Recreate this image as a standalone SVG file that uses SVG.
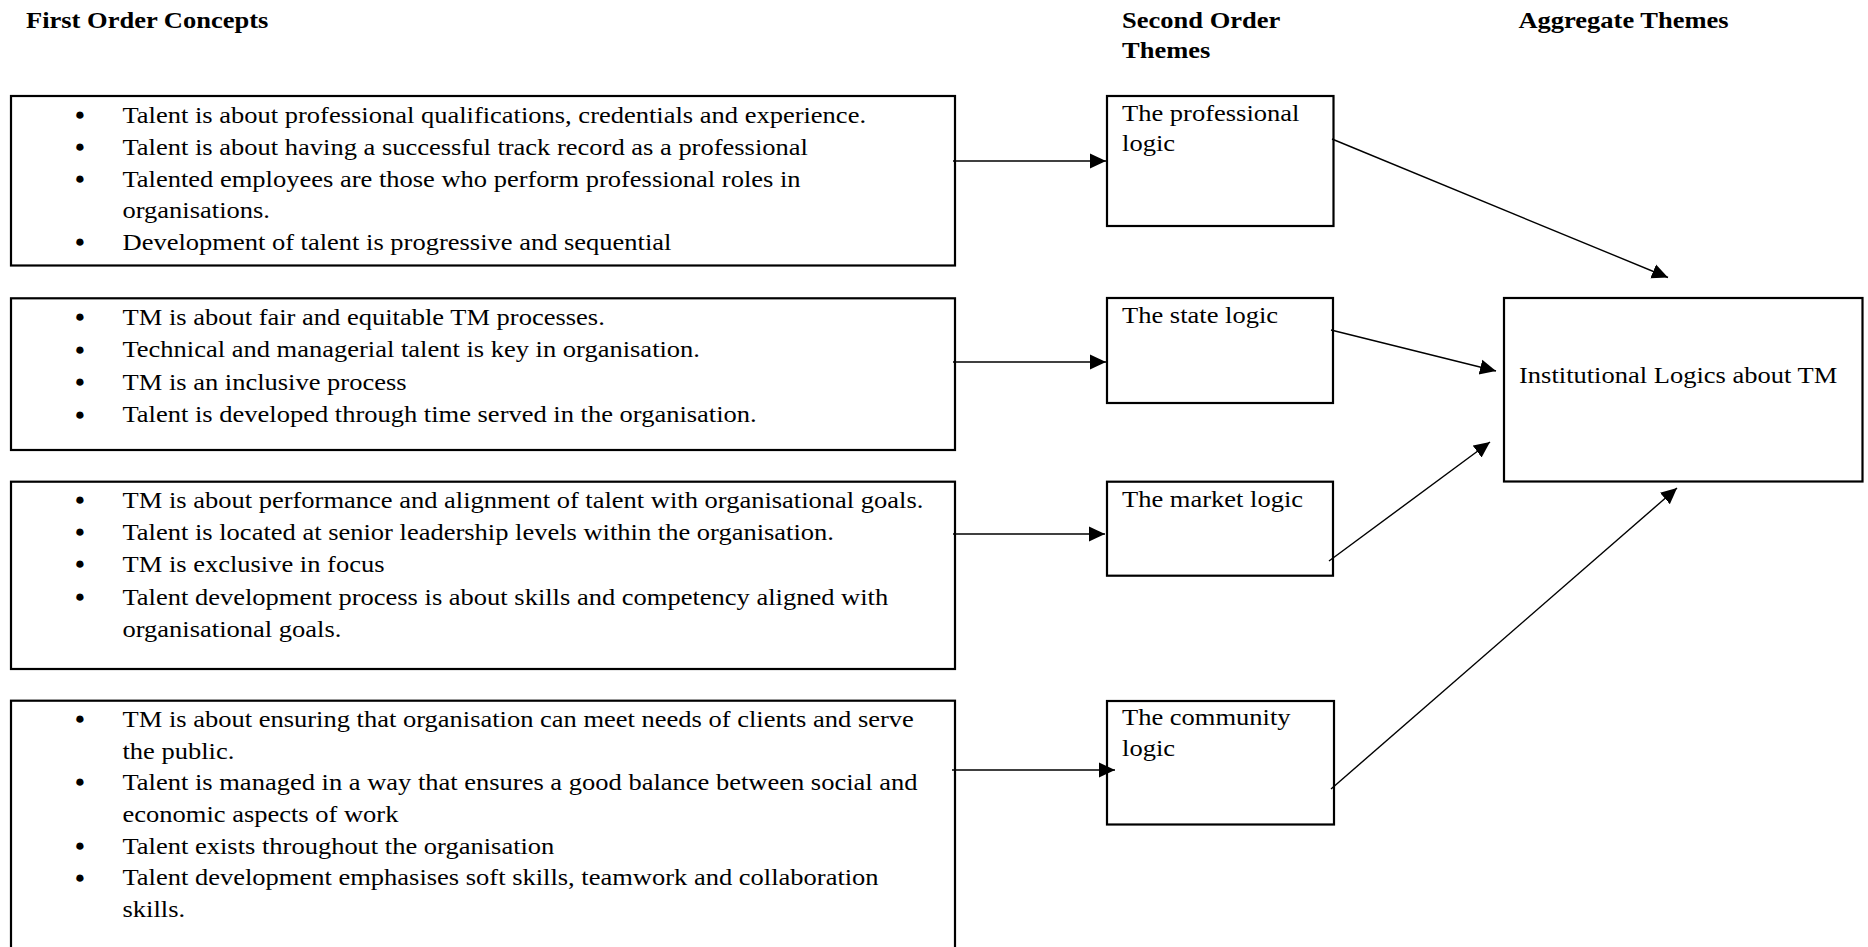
<svg xmlns="http://www.w3.org/2000/svg" width="1868" height="947" viewBox="0 0 1868 947">
<style>
  .bg { fill: #ffffff; }
  .box { fill: #ffffff; stroke: #000000; stroke-width: 2.2; }
  .t { font-family: "Liberation Serif", "Times New Roman", serif; font-size: 22.5px; fill: #000000; }
  .h { font-family: "Liberation Serif", "Times New Roman", serif; font-size: 22.5px; font-weight: bold; fill: #000000; }
  .bul { font-family: "Liberation Sans", Arial, sans-serif; font-size: 17px; fill: #000000; text-anchor: middle; }
  .conn { stroke: #000000; stroke-width: 1.4; fill: none; marker-end: url(#ah); }
</style>
<defs>
  <marker id="ah" markerUnits="userSpaceOnUse" markerWidth="20" markerHeight="20" refX="16" refY="8" orient="auto">
    <path d="M0,0.5 L16,8 L0,15.5 Z" fill="#000000"/>
  </marker>
</defs>
<rect class="bg" x="0" y="0" width="1868" height="947"/>

<g id="headers" transform="scale(1.178 1)">
  <text class="h" x="22.07" y="28">First Order Concepts</text>
  <text class="h" x="952.5" y="28">Second Order</text>
  <text class="h" x="952.5" y="58.5">Themes</text>
  <text class="h" x="1289" y="28">Aggregate Themes</text>
</g>

<g id="concepts-professional">
  <rect class="box" x="11" y="96" width="944" height="169.5"/>
  <text class="bul" x="80" y="120">●</text>
  <text class="bul" x="80" y="151.8">●</text>
  <text class="bul" x="80" y="183.6">●</text>
  <text class="bul" x="80" y="247.2">●</text>
  <g transform="scale(1.178 1)">
    <text class="t" x="104" y="123">Talent is about professional qualifications, credentials and experience.</text>
    <text class="t" x="104" y="154.8">Talent is about having a successful track record as a professional</text>
    <text class="t" x="104" y="186.6">Talented employees are those who perform professional roles in</text>
    <text class="t" x="104" y="218.4">organisations.</text>
    <text class="t" x="104" y="250.2">Development of talent is progressive and sequential</text>
  </g>
</g>

<g id="concepts-state">
  <rect class="box" x="11" y="298.3" width="944" height="151.7"/>
  <text class="bul" x="80" y="322">●</text>
  <text class="bul" x="80" y="354.5">●</text>
  <text class="bul" x="80" y="387">●</text>
  <text class="bul" x="80" y="419.5">●</text>
  <g transform="scale(1.178 1)">
    <text class="t" x="104" y="325">TM is about fair and equitable TM processes.</text>
    <text class="t" x="104" y="357.5">Technical and managerial talent is key in organisation.</text>
    <text class="t" x="104" y="390">TM is an inclusive process</text>
    <text class="t" x="104" y="422.5">Talent is developed through time served in the organisation.</text>
  </g>
</g>

<g id="concepts-market">
  <rect class="box" x="11" y="481.7" width="944" height="187.3"/>
  <text class="bul" x="80" y="505">●</text>
  <text class="bul" x="80" y="537.2">●</text>
  <text class="bul" x="80" y="569.4">●</text>
  <text class="bul" x="80" y="601.6">●</text>
  <g transform="scale(1.178 1)">
    <text class="t" x="104" y="508">TM is about performance and alignment of talent with organisational goals.</text>
    <text class="t" x="104" y="540.2">Talent is located at senior leadership levels within the organisation.</text>
    <text class="t" x="104" y="572.4">TM is exclusive in focus</text>
    <text class="t" x="104" y="604.6">Talent development process is about skills and competency aligned with</text>
    <text class="t" x="104" y="636.8">organisational goals.</text>
  </g>
</g>

<g id="concepts-community">
  <rect class="box" x="11" y="700.7" width="944" height="260"/>
  <text class="bul" x="80" y="724">●</text>
  <text class="bul" x="80" y="787.4">●</text>
  <text class="bul" x="80" y="850.8">●</text>
  <text class="bul" x="80" y="882.5">●</text>
  <g transform="scale(1.178 1)">
    <text class="t" x="104" y="727">TM is about ensuring that organisation can meet needs of clients and serve</text>
    <text class="t" x="104" y="758.7">the public.</text>
    <text class="t" x="104" y="790.4">Talent is managed in a way that ensures a good balance between social and</text>
    <text class="t" x="104" y="822.1">economic aspects of work</text>
    <text class="t" x="104" y="853.8">Talent exists throughout the organisation</text>
    <text class="t" x="104" y="885.5">Talent development emphasises soft skills, teamwork and collaboration</text>
    <text class="t" x="104" y="917.2">skills.</text>
  </g>
</g>

<g id="theme-professional">
  <rect class="box" x="1107" y="96" width="226.5" height="130"/>
  <g transform="scale(1.178 1)">
    <text class="t" x="952.5" y="121">The professional</text>
    <text class="t" x="952.5" y="151.5">logic</text>
  </g>
</g>

<g id="theme-state">
  <rect class="box" x="1107" y="298" width="226" height="105"/>
  <g transform="scale(1.178 1)">
    <text class="t" x="952.5" y="323">The state logic</text>
  </g>
</g>

<g id="theme-market">
  <rect class="box" x="1107" y="481.7" width="226" height="94"/>
  <g transform="scale(1.178 1)">
    <text class="t" x="952.5" y="507">The market logic</text>
  </g>
</g>

<g id="theme-community">
  <rect class="box" x="1107" y="701" width="227" height="123.5"/>
  <g transform="scale(1.178 1)">
    <text class="t" x="952.5" y="725">The community</text>
    <text class="t" x="952.5" y="756">logic</text>
  </g>
</g>

<g id="aggregate">
  <rect class="box" x="1504" y="298" width="358.5" height="183.5"/>
  <g transform="scale(1.178 1)">
    <text class="t" x="1289.5" y="383">Institutional Logics about TM</text>
  </g>
</g>

<g id="connectors">
  <line class="conn" x1="953" y1="161" x2="1106" y2="161"/>
  <line class="conn" x1="953" y1="362" x2="1106" y2="362"/>
  <line class="conn" x1="953" y1="534" x2="1105" y2="534"/>
  <line class="conn" x1="952" y1="770" x2="1115" y2="770"/>
  <line class="conn" x1="1332" y1="139" x2="1668" y2="277.5"/>
  <line class="conn" x1="1331" y1="330" x2="1496" y2="371"/>
  <line class="conn" x1="1329" y1="561" x2="1490" y2="442"/>
  <line class="conn" x1="1331" y1="789" x2="1677" y2="488"/>
</g>
</svg>
